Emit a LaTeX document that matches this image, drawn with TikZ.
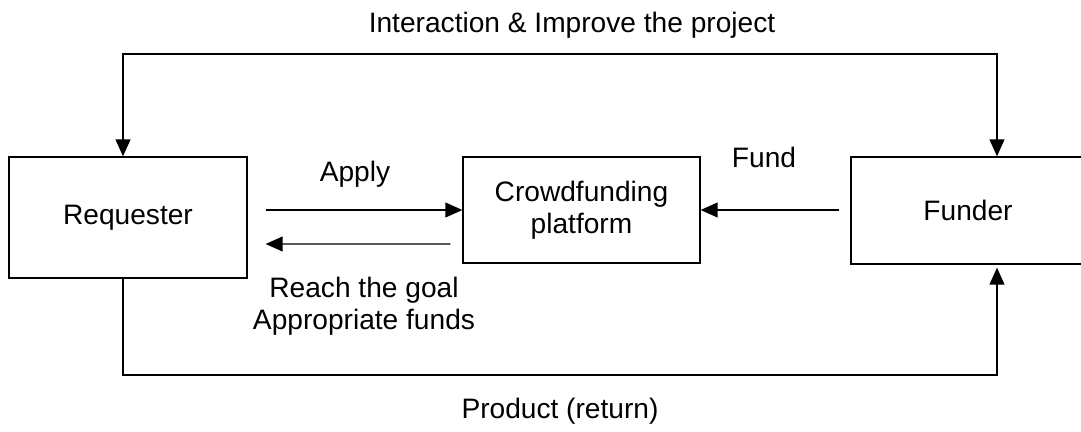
\documentclass[tikz,border=0pt]{standalone}
\usepackage{fontspec}
\setmainfont{Liberation Sans}
\usetikzlibrary{arrows.meta}
\usetikzlibrary{calc}

\begin{document}
\begin{tikzpicture}[x=0.025cm, y=-0.025cm, line width=0.9pt,
        box_style/.style={rectangle,draw=black,inner sep=0pt,font=\fontsize{20}{23}\selectfont,align=center},
        label_style/.style={inner sep=0pt,font=\fontsize{20}{23}\selectfont,align=center},
        edge_style/.style={draw=black, line width=0.9pt,-{Triangle[length=12pt,width=10.5pt]}}]

        \useasboundingbox (0,0) rectangle (1081,432);

        \node [box_style,minimum width=238*0.025cm,minimum height=121*0.025cm](req) at (128,217.5) {Requester};

        \node [box_style,minimum width=237*0.025cm,minimum height=106*0.025cm](plat) at (581.5,210) {Crowdfunding\\platform};

        \node [box_style,minimum width=234*0.025cm,minimum height=107*0.025cm](fund) at (968,210.5) {Funder};

        \coordinate (tl) at (123,54);

        \coordinate (tr) at (997,54);

        \coordinate (bl) at (123,375);

        \draw [edge_style,{Triangle[length=12pt,width=10.5pt]}-{Triangle[length=12pt,width=10.5pt]}] (tl |- req.north) -- (tl) -- (tr) -- (tr |- fund.north);

        \draw [edge_style] (tl |- req.south) -- (bl) -| ($(tr |- fund.south)+(0,3)$);

        \draw [edge_style,shorten <=12.8pt] (req.east |- plat.west) -- (plat.west);

        \draw [edge_style,shorten <=8.5pt,shorten >=12.8pt] ($(plat.west)+(0,34)$) -- ($(req.east)+(0,26.5)$);

        \draw [edge_style,shorten <=8pt] (fund.west |- plat.east) -- (plat.east);

        \node [label_style](n_interact) at (572,25) {Interaction \& Improve the project};

        \node [label_style](n_apply) at (355,174) {Apply};

        \node [label_style](n_fund) at (764,157) {Fund};

        \node [label_style](n_reach) at (364,306) {Reach the goal\\Appropriate funds};

        \node [label_style](n_product) at (560,411) {Product (return)};

        \end{tikzpicture}
\end{document}
